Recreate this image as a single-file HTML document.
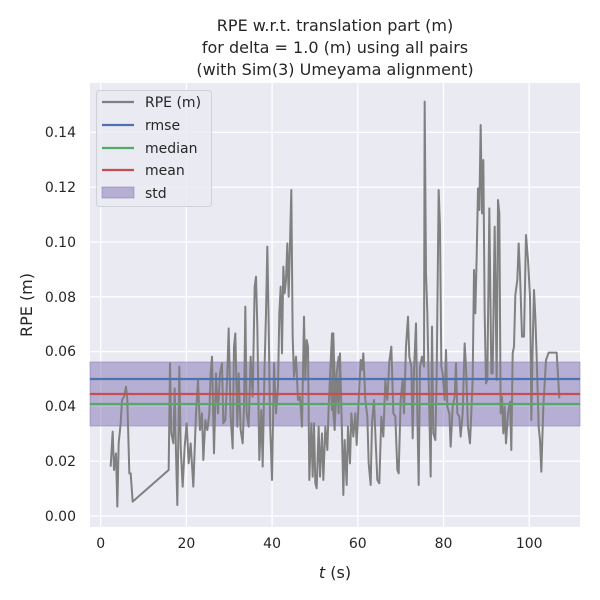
<!DOCTYPE html>
<html><head><meta charset="utf-8"><style>
body{margin:0;background:#fff}
svg{display:block;font-family:"DejaVu Sans","Liberation Sans",sans-serif}
</style></head><body>
<svg width="600" height="600" viewBox="0 0 600 600" xmlns="http://www.w3.org/2000/svg">
<rect width="600" height="600" fill="#fff"/>
<rect x="90" y="83" width="490" height="444" fill="#eaeaf2"/>
<g stroke="#fff" stroke-width="1.3">
<line x1="100.7" y1="83" x2="100.7" y2="527"/><line x1="186.4" y1="83" x2="186.4" y2="527"/><line x1="272.1" y1="83" x2="272.1" y2="527"/><line x1="357.8" y1="83" x2="357.8" y2="527"/><line x1="443.5" y1="83" x2="443.5" y2="527"/><line x1="529.2" y1="83" x2="529.2" y2="527"/>
<line x1="90" y1="516" x2="580" y2="516"/><line x1="90" y1="461.2" x2="580" y2="461.2"/><line x1="90" y1="406.4" x2="580" y2="406.4"/><line x1="90" y1="351.6" x2="580" y2="351.6"/><line x1="90" y1="296.8" x2="580" y2="296.8"/><line x1="90" y1="242" x2="580" y2="242"/><line x1="90" y1="187.2" x2="580" y2="187.2"/><line x1="90" y1="132.4" x2="580" y2="132.4"/>
</g>
<rect x="90" y="362" width="490" height="64" fill="#8172b3" fill-opacity="0.5" stroke="#8172b3" stroke-opacity="0.5"/>
<g transform="translate(90,80) scale(0.33333)" fill="none" stroke="#808080" stroke-width="6" stroke-linejoin="round">
<polyline points="62,1160 68,1055 72,1170 78,1120 82,1280 86,1090 92,1030 96,960 102,950 108,920 112,960 118,1180 122,1180 128,1265 236,1170 240,850 244,1060 250,1090 254,925 258,1120 262,1275 268,860 272,1100 278,1220 284,1100 290,1030 296,1150 302,1090 310,1220 318,1000 324,900 330,1050 336,1000 340,1140 346,1020 352,1050 358,1000 362,880 366,830 372,1120 378,880 384,1000 390,880 396,850 400,1030 406,1020 412,880 416,745 422,1010 428,1105 432,800 436,760 442,1040 446,880 452,1050 458,1090 462,980 466,680 470,1000 476,1040 482,830 488,950 494,620 498,590 502,740 508,1140 514,990 518,1160 524,850 528,700 532,500 536,730 540,1020 546,1200 552,850 558,1000 564,920 568,700 572,620 576,820 580,560 584,640 588,600 592,490 596,650 600,490 604,330 608,770 612,890 618,830 624,960 630,950 636,1040 642,710 646,900 650,780 654,800 658,1200 664,1030 668,1190 672,1030 676,1210 680,1225 686,1040 690,1190 696,1060 700,1200 706,1040 712,1110 716,980 720,890 726,760 730,1000 734,1050 740,880 746,830 750,880"/>
</g>
<g transform="translate(330,80) scale(0.33333)" fill="none" stroke="#808080" stroke-width="6" stroke-linejoin="round">
<polyline points="0,880 6,990 10,760 16,1000 22,900 26,1000 30,820 36,1060 40,1245 44,1080 50,1215 54,1040 60,1150 64,1000 70,1070 76,1000 80,1095 86,960 92,840 96,870 100,820 106,960 112,1010 116,1150 122,1215 126,1030 132,960 136,1060 142,1200 148,1210 154,1010 160,1070 166,900 172,960 178,845 184,800 190,1000 196,1010 202,1170 206,1180 212,960 218,900 222,1000 228,800 234,710 238,830 244,860 248,1075 252,870 258,730 262,1000 266,1215 270,860 276,830 282,860 284,65 288,580 292,700 296,900 302,1190 306,740 310,1060 316,1080 320,890 326,330 330,440 334,860 338,880 344,960 348,810 352,980 358,1000 362,1100 368,980 374,950 378,850 382,1000 388,1010 392,1070 398,1000 404,790 408,860 414,1040 420,1090 428,900 432,570 436,700 440,530 444,325 448,390 452,135 456,400 460,240 464,700 468,910 472,900 478,385 484,880 488,880 494,440 500,900 504,360 508,400 512,1000 516,950 520,1060 524,980 528,1090 534,1000 540,965 544,1110 548,820 552,800 556,645 562,600 566,490 570,580 576,770 582,770 588,465 594,540 600,650 604,1020 608,800 612,630 616,710 620,830 626,1040 630,1080 634,1175 640,980 648,840 656,818 680,818 688,955"/>
</g>
<line x1="90" y1="379" x2="580" y2="379" stroke="#4c72b0" stroke-width="2.2"/>
<line x1="90" y1="404" x2="580" y2="404" stroke="#55a868" stroke-width="2.2"/>
<line x1="90" y1="394" x2="580" y2="394" stroke="#c44e52" stroke-width="2.2"/>
<rect x="96.5" y="90.5" width="115" height="116" rx="3" fill="#eaeaf2" fill-opacity="0.85" stroke="#d0d0d8"/>
<g stroke-width="2.2">
<line x1="102" y1="102" x2="134" y2="102" stroke="#808080"/>
<line x1="102" y1="125" x2="134" y2="125" stroke="#4c72b0"/>
<line x1="102" y1="148" x2="134" y2="148" stroke="#55a868"/>
<line x1="102" y1="170" x2="134" y2="170" stroke="#c44e52"/>
</g>
<rect x="102" y="187" width="32" height="11" fill="#8172b3" fill-opacity="0.5" stroke="#8172b3" stroke-opacity="0.5"/>
<g font-size="14" fill="#262626">
<text x="145" y="107">RPE (m)</text><text x="145" y="130">rmse</text><text x="145" y="153">median</text><text x="145" y="175">mean</text><text x="145" y="198">std</text>
</g>
<g font-size="14" fill="#262626" text-anchor="end">
<text x="76" y="521">0.00</text><text x="76" y="466">0.02</text><text x="76" y="411">0.04</text><text x="76" y="356">0.06</text><text x="76" y="302">0.08</text><text x="76" y="247">0.10</text><text x="76" y="192">0.12</text><text x="76" y="137">0.14</text>
</g>
<g font-size="14" fill="#262626" text-anchor="middle">
<text x="100.7" y="548">0</text><text x="186.4" y="548">20</text><text x="272.1" y="548">40</text><text x="357.8" y="548">60</text><text x="443.5" y="548">80</text><text x="529.2" y="548">100</text>
<text x="335" y="578" font-size="16"><tspan font-style="italic">t</tspan> (s)</text>
<text x="335" y="31" font-size="16">RPE w.r.t. translation part (m)</text>
<text x="335" y="53" font-size="16">for delta = 1.0 (m) using all pairs</text>
<text x="335" y="75" font-size="16">(with Sim(3) Umeyama alignment)</text>
</g>
<text transform="translate(32,305) rotate(-90)" font-size="16" fill="#262626" text-anchor="middle">RPE (m)</text>
</svg>
</body></html>
